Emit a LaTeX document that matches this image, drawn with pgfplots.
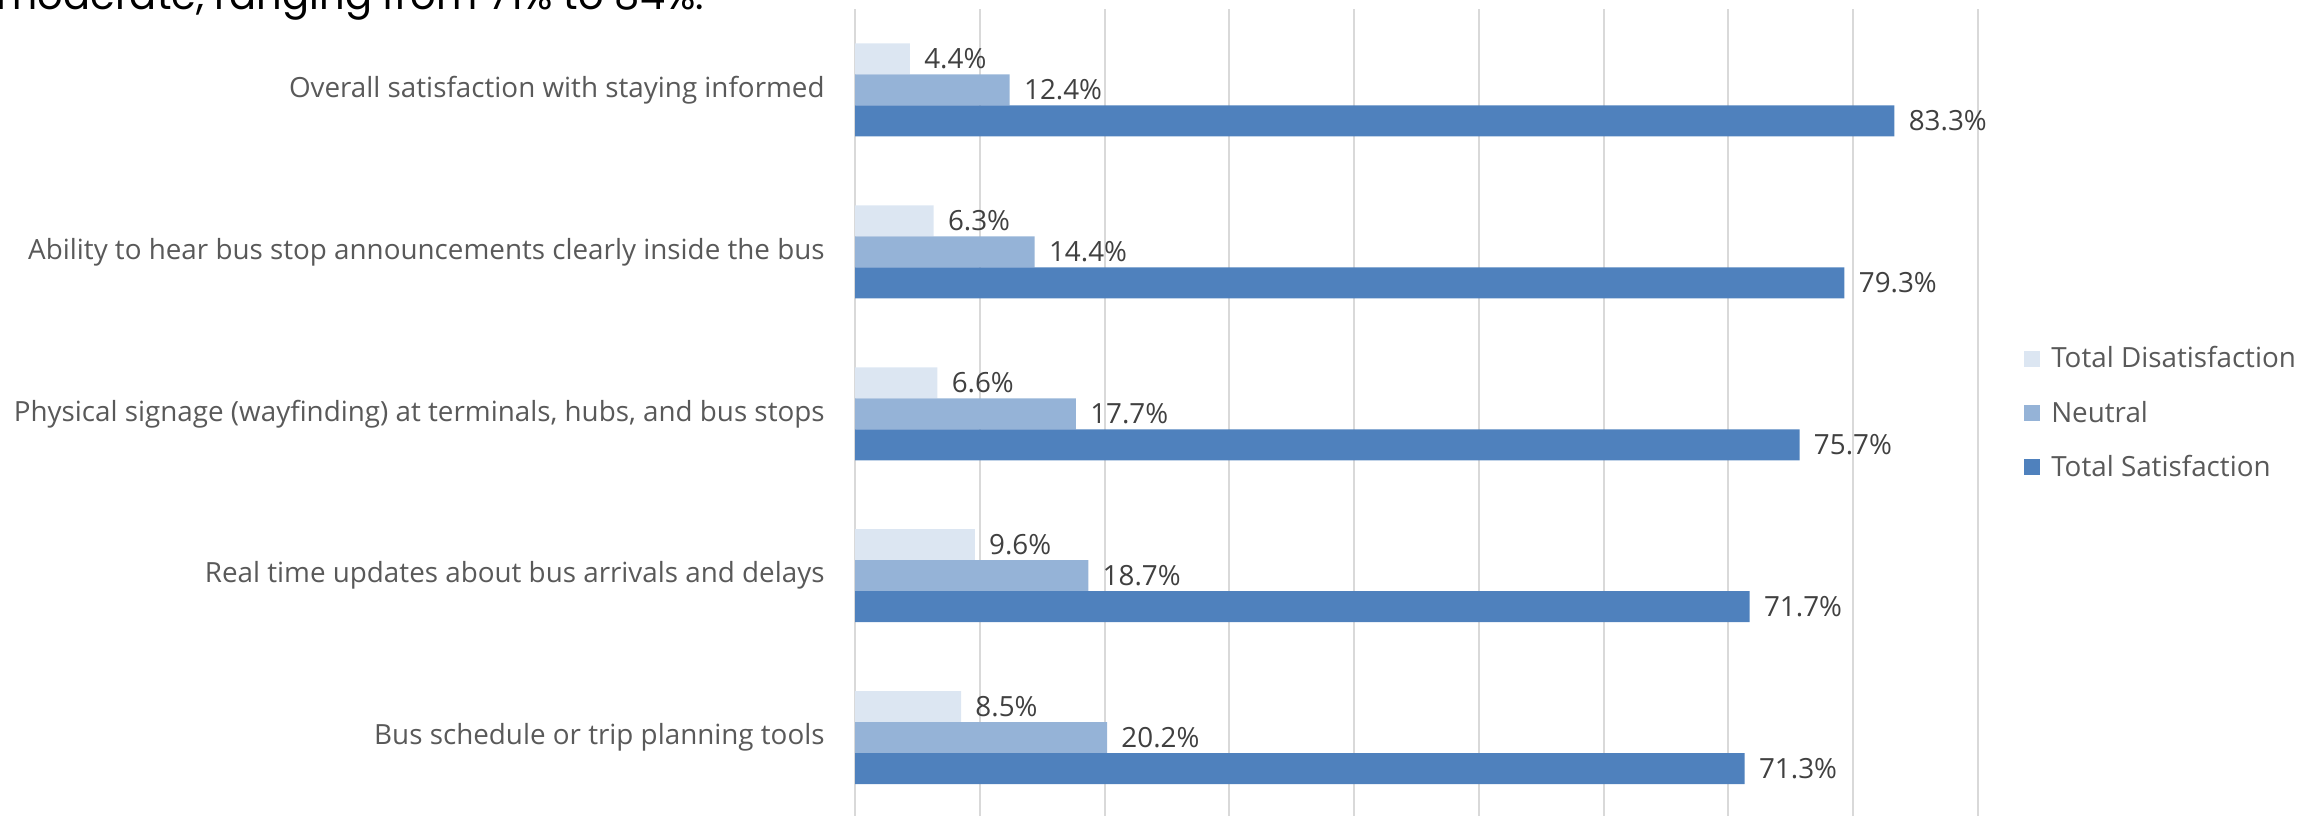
\documentclass[border=0pt]{standalone}
\usepackage{pgfplots}
\pgfplotsset{compat=1.18}
\usepackage{fontspec}
\setmainfont{Open Sans}
\newfontfamily\titlefont{Poppins}
\definecolor{cDis}{HTML}{DCE6F2}
\definecolor{cNeu}{HTML}{95B3D7}
\definecolor{cSat}{HTML}{4F81BD}
\definecolor{gridc}{HTML}{D9D9D9}
\definecolor{labc}{HTML}{595959}
\definecolor{datac}{HTML}{404040}
\newcommand{\cfont}{\fontsize{13.9pt}{16pt}\selectfont}
\begin{document}
\begin{tikzpicture}
\begin{axis}[
  at={(427.5pt,-1.75pt)}, anchor=south west,
  scale only axis, width=561.5pt, height=404.75pt,
  xbar, bar width=15.5pt,
  xmin=0, xmax=90, ymin=-0.5, ymax=4.5,
  xtick={0,10,...,90}, xticklabels={},
  xmajorgrids, grid style={gridc, line width=1pt},
  ytick={0,1,2,3,4},
  yticklabels={Bus schedule or trip planning tools, Real time updates about bus arrivals and delays, {Physical signage (wayfinding) at terminals, hubs, and bus stops}, Ability to hear bus stop announcements clearly inside the bus, Overall satisfaction with staying informed},
  major tick length=0pt,
  axis line style={draw=none},
  yticklabel style={font=\cfont, text=labc, inner sep=0pt, anchor=east, xshift=-15pt},
  /pgf/number format/assume math mode=true,
  nodes near coords={\pgfmathprintnumber[fixed,fixed zerofill,precision=1]{\pgfplotspointmeta}\%},
  nodes near coords style={font=\cfont, text=datac, anchor=west, inner sep=0pt, xshift=7pt},
  legend style={at={(rel axis cs:1.0355,0.501)}, anchor=west, draw=none, fill=none, font=\cfont, text=labc, row sep=11pt, /tikz/every odd column/.style={column sep=3.5pt}},
  legend cell align=left,
  legend image code/.code={\fill[#1] (0pt,-4pt) rectangle (8pt,4pt);},
]
\addplot[fill=cDis, draw=none, bar shift=15.5pt] coordinates {(8.5,0) (9.6,1) (6.6,2) (6.3,3) (4.4,4)};
\addplot[fill=cNeu, draw=none, bar shift=0pt] coordinates {(20.2,0) (18.7,1) (17.7,2) (14.4,3) (12.4,4)};
\addplot[fill=cSat, draw=none, bar shift=-15.5pt] coordinates {(71.3,0) (71.7,1) (75.7,2) (79.3,3) (83.3,4)};
\legend{Total Disatisfaction, Neutral, Total Satisfaction}
\end{axis}
\node[anchor=base west, inner sep=0pt, font=\titlefont\fontsize{20pt}{24pt}\selectfont, text=black] at (-2pt,402.5pt) {moderate, ranging from 71\% to 84\%.};
\pgfresetboundingbox
\useasboundingbox (0,0) rectangle (1161.5pt,407.5pt);
\end{tikzpicture}
\end{document}
